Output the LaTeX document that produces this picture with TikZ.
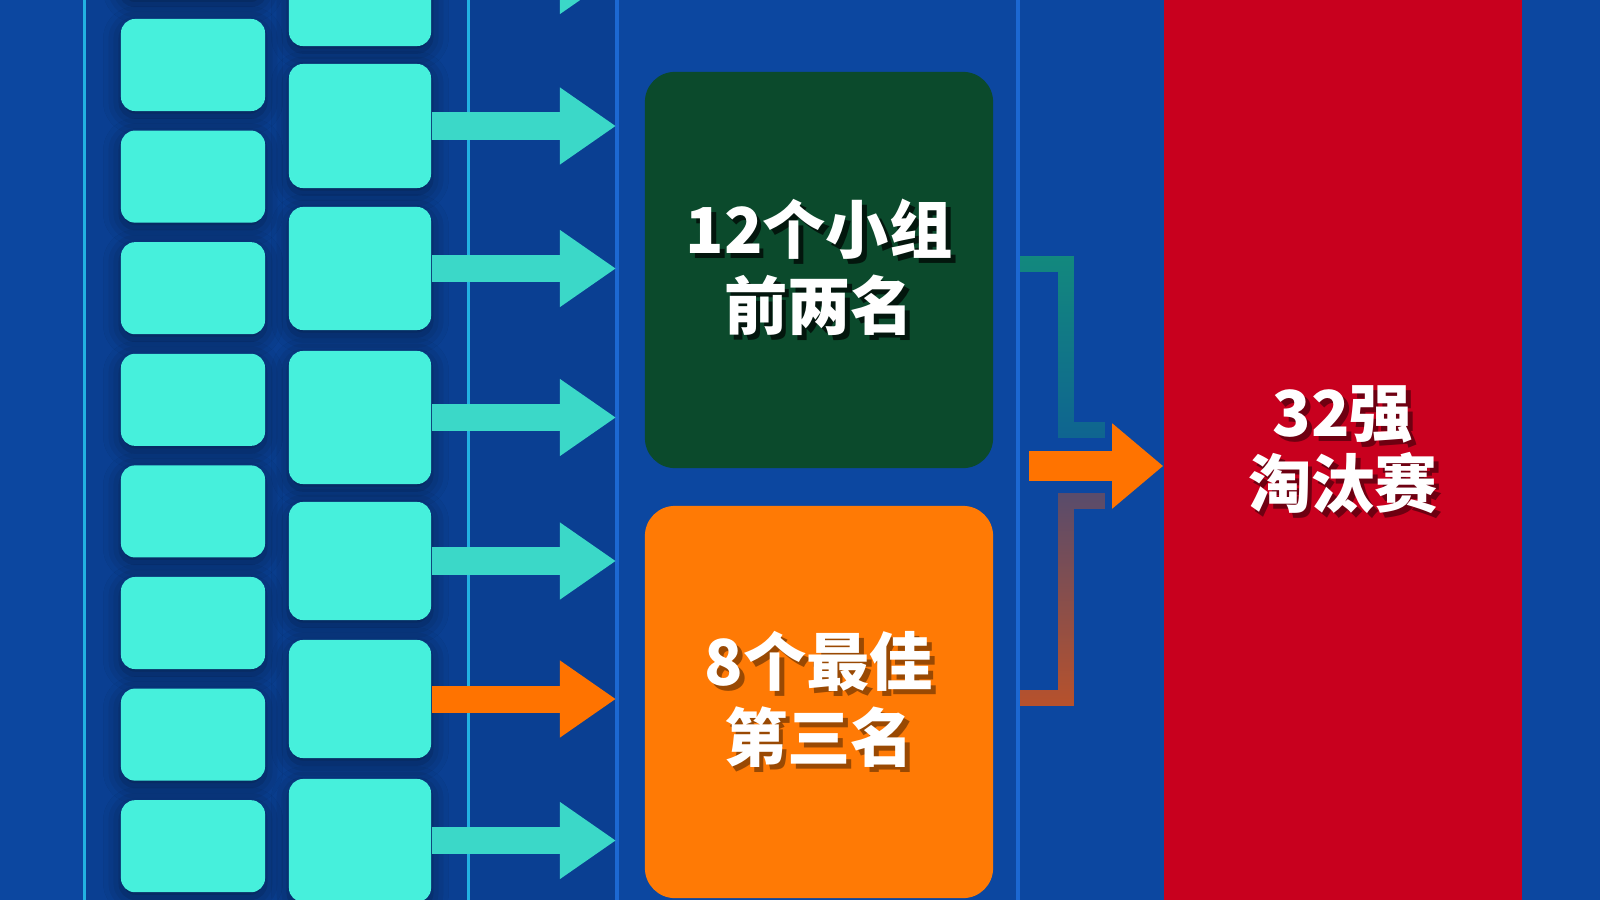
\documentclass[tikz,border=0pt]{standalone}
\usepackage{fontspec}
\newfontfamily\cjk{Noto Sans CJK SC}
\usepackage{tikz}
\usetikzlibrary{arrows.meta,positioning,calc,fadings,shadows.blur}
\definecolor{bgblue}{HTML}{0C47A0}
\definecolor{navy}{HTML}{0A3F92}
\definecolor{aqua}{HTML}{46F0DC}
\definecolor{arrowaqua}{HTML}{3BD8C8}
\definecolor{lineaqua}{HTML}{22B2E2}
\definecolor{lineblue}{HTML}{1C68D2}
\definecolor{grpgreen}{HTML}{0B4A2C}
\definecolor{thirdorange}{HTML}{FF7A05}
\definecolor{korange}{HTML}{FF7300}
\definecolor{kored}{HTML}{C8001E}
\definecolor{bracketteal}{HTML}{13897E}
\definecolor{bracketrust}{HTML}{B8522C}
\newcommand\shtext[2]{\makebox[0pt][l]{\kern1.4pt\raisebox{-1.4pt}{\textcolor{#1}{#2}}}#2}
\tikzfading[name=fadelow, top color=transparent!0, bottom color=transparent!55]
\tikzfading[name=fadehigh, top color=transparent!55, bottom color=transparent!0]

\begin{document}
\begin{tikzpicture}[x=0.01cm,y=-0.01cm,
  team/.style={fill=aqua,rounded corners=0.14cm,inner sep=0pt,minimum width=1.44cm,
    blur shadow={shadow xshift=0pt,shadow yshift=-1.5pt,shadow blur radius=5pt,shadow opacity=45}},
  feed/.style={line width=0.27cm,-{Triangle[length=0.56cm,width=0.73cm]}},
  stage/.style={rounded corners=0.3cm,inner sep=0pt,minimum width=3.48cm,text=white,align=center,
    font=\cjk\bfseries\fontsize{18}{21.6}\selectfont},
  bracket/.style={line width=0.16cm}]
\useasboundingbox (0,0) rectangle (1600,900);
\clip (0,0) rectangle (1600,900);
\fill[bgblue] (0,0) rectangle (1600,900);
\fill[navy] (84,0) rectangle (617,900);
\draw[lineaqua,line width=0.03cm] (84,0) -- (84,900);
\draw[lineaqua,line width=0.03cm] (468,0) -- (468,900);
\draw[lineblue,line width=0.045cm] (617,0) -- (617,900);
\draw[lineblue,line width=0.045cm] (1018,0) -- (1018,900);
\coordinate (sepc) at (616,0);
\foreach \k in {0,...,8}
  \node[team,minimum height=0.92cm] (a\k) at (193,{-46.6+111.6*\k}) {};
\foreach \i/\c/\h in {1/-24.5/1.41,2/126/1.24,3/268.5/1.23,4/417.5/1.33,5/561/1.18,6/699/1.18,7/840.5/1.23}
  \node[team,minimum width=1.42cm,minimum height=\h cm] (b\i) at (360,\c) {};
\foreach \i/\col in {1/arrowaqua,2/arrowaqua,3/arrowaqua,4/arrowaqua,5/arrowaqua,6/korange,7/arrowaqua}
  \draw[feed,\col] (b\i.east) -- (b\i.east -| sepc);
\node[stage,fill=grpgreen,minimum height=3.96cm] (top2) at (819,270)
  {\shtext{black!70!grpgreen}{12个小组}\\\shtext{black!70!grpgreen}{前两名}};
\node[stage,fill=thirdorange,minimum height=3.92cm] (third) at (819,702)
  {\shtext{black!40!thirdorange}{8个最佳}\\\shtext{black!40!thirdorange}{第三名}};
\node[fill=kored,inner sep=0pt,minimum width=3.58cm,minimum height=9.2cm,text=white,align=center,
  font=\cjk\bfseries\fontsize{18}{20.2}\selectfont] (ko) at (1343,452)
  {\shtext{black!45!kored}{32强}\\\shtext{black!45!kored}{淘汰赛}};
\coordinate (ga) at (1020,264);
\coordinate (gb) at (1066,430);
\coordinate (gc) at (1105,430);
\coordinate (ta) at (1020,698);
\coordinate (tb) at (1066,501);
\coordinate (tc) at (1105,501);
\draw[bracket,bracketteal,path fading=fadelow] (ga) -| (gb) -- (gc);
\draw[bracket,bracketrust,path fading=fadehigh] (ta) -| (tb) -- (tc);
\coordinate (merge) at (1029,466);
\draw[korange,line width=0.30cm,-{Triangle[length=0.51cm,width=0.82cm]}] (merge) -- (merge -| ko.west);
\end{tikzpicture}
\end{document}
